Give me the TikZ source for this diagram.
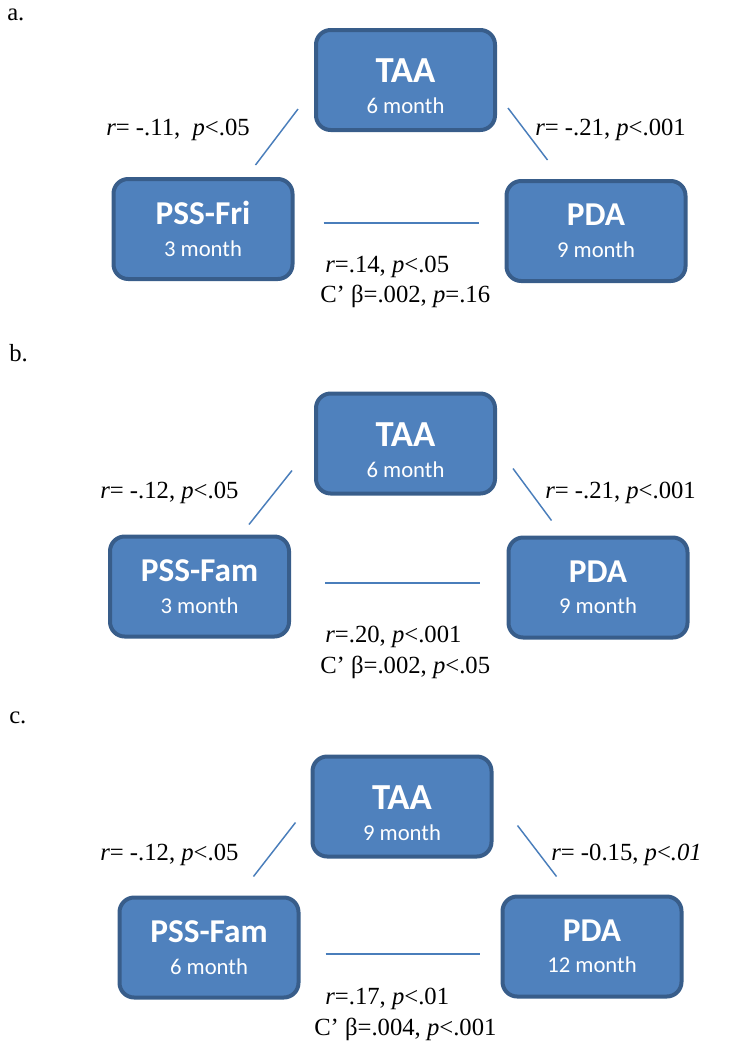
\documentclass[tikz,border=0pt]{standalone}
\usepackage{fontspec}
\setmainfont{Liberation Serif}
\newfontfamily\boxfont{Carlito}
\usepackage{xcolor}
\usepackage{tikz}
\usetikzlibrary{positioning}
\definecolor{boxblue}{HTML}{4F81BD}
\definecolor{boxedge}{HTML}{385D8A}
\definecolor{linkblue}{HTML}{4A7EBB}
\newcommand{\vname}[1]{{\fontsize{25}{23.6}\selectfont\bfseries #1}}
\newcommand{\tname}[1]{{\rule{0pt}{27.5pt}\fontsize{27.5}{23.6}\selectfont\bfseries #1}}

\begin{document}
\begin{tikzpicture} [
                x=0.75pt, y=-0.75pt,
                var/.style = {draw=boxedge, line width=3pt, fill=boxblue, rounded corners=11pt, minimum width=134.25pt, minimum height=75pt, inner sep=0pt, align=center, text=white, font=\boxfont\fontsize{17}{23.6}\selectfont},
                link/.style = {draw=linkblue, line width=1.1pt},
                stat/.style = {anchor=base west, inner sep=0pt, font=\fontsize{18.5}{22}\selectfont}
            ]
            \useasboundingbox (0,0) rectangle (729,1050);

            \node (la) at (7,20) [stat] {a.};
            \node (taa1) at (405.5,80) [var] {\tname{TAA}\\6 month};
            \node (pss1) at (203,229) [var] {\vname{PSS-Fri}\\3 month};
            \node (pda1) at (596,231) [var] {\vname{PDA}\\9 month};
            \draw [link] ([shift={(-16,-23)}] taa1.south west) -- ([shift={(-39,-12)}] pss1.north east);
            \draw [link] ([shift={(11,-24)}] taa1.south east) -- ([shift={(43,-19)}] pda1.north west);
            \draw [link] ([shift={(29,-6)}] pss1.east) -- ([shift={(-26,-8)}] pda1.west);
            \node (stl1) at (106,135) [stat] {\textit{r}= -.11,\ \ \textit{p}<.05};
            \node (str1) at (535,135) [stat] {\textit{r}= -.21, \textit{p}<.001};
            \node (stb1) at (325,272) [stat] {\textit{r}=.14, \textit{p}<.05};
            \node (stc1) at (320,302) [stat] {C’ β=.002, \textit{p}=.16};

            \node (lb) at (9,361) [stat] {b.};
            \node (taa2) at (405.5,443.5) [var] {\tname{TAA}\\6 month};
            \node (pss2) at (199.5,586.5) [var] {\vname{PSS-Fam}\\3 month};
            \node (pda2) at (598,587.5) [var] {\vname{PDA}\\9 month};
            \draw [link] ([shift={(-22,-25)}] taa2.south west) -- ([shift={(-42,-10)}] pss2.north east);
            \draw [link] ([shift={(16,-27)}] taa2.south east) -- ([shift={(45,-15)}] pda2.north west);
            \draw [link] ([shift={(34,-3.5)}] pss2.east) -- ([shift={(-27,-4.5)}] pda2.west);
            \node (stl2) at (100,498) [stat] {\textit{r}= -.12, \textit{p}<.05};
            \node (str2) at (545,498) [stat] {\textit{r}= -.21, \textit{p}<.001};
            \node (stb2) at (325,642) [stat] {\textit{r}=.20, \textit{p}<.001};
            \node (stc2) at (320,673) [stat] {C’ β=.002, \textit{p}<.05};

            \node (lc) at (9,723) [stat] {c.};
            \node (taa3) at (402,806.5) [var] {\tname{TAA}\\9 month};
            \node (pss3) at (209,947.5) [var] {\vname{PSS-Fam}\\6 month};
            \node (pda3) at (592,946.5) [var] {\vname{PDA}\\12 month};
            \draw [link] ([shift={(-15,-36)}] taa3.south west) -- ([shift={(-47,-19)}] pss3.north east);
            \draw [link] ([shift={(24,-33)}] taa3.south east) -- ([shift={(56,-18)}] pda3.north west);
            \draw [link] ([shift={(25,6.5)}] pss3.east) -- ([shift={(-21,7.5)}] pda3.west);
            \node (stl3) at (100,860) [stat] {\textit{r}= -.12, \textit{p}<.05};
            \node (str3) at (551,860) [stat] {\textit{r}= -0.15, \textit{p}<\textit{.01}};
            \node (stb3) at (325,1004) [stat] {\textit{r}=.17, \textit{p}<.01};
            \node (stc3) at (314,1035) [stat] {C’ β=.004, \textit{p}<.001};
        \end{tikzpicture}
\end{document}
